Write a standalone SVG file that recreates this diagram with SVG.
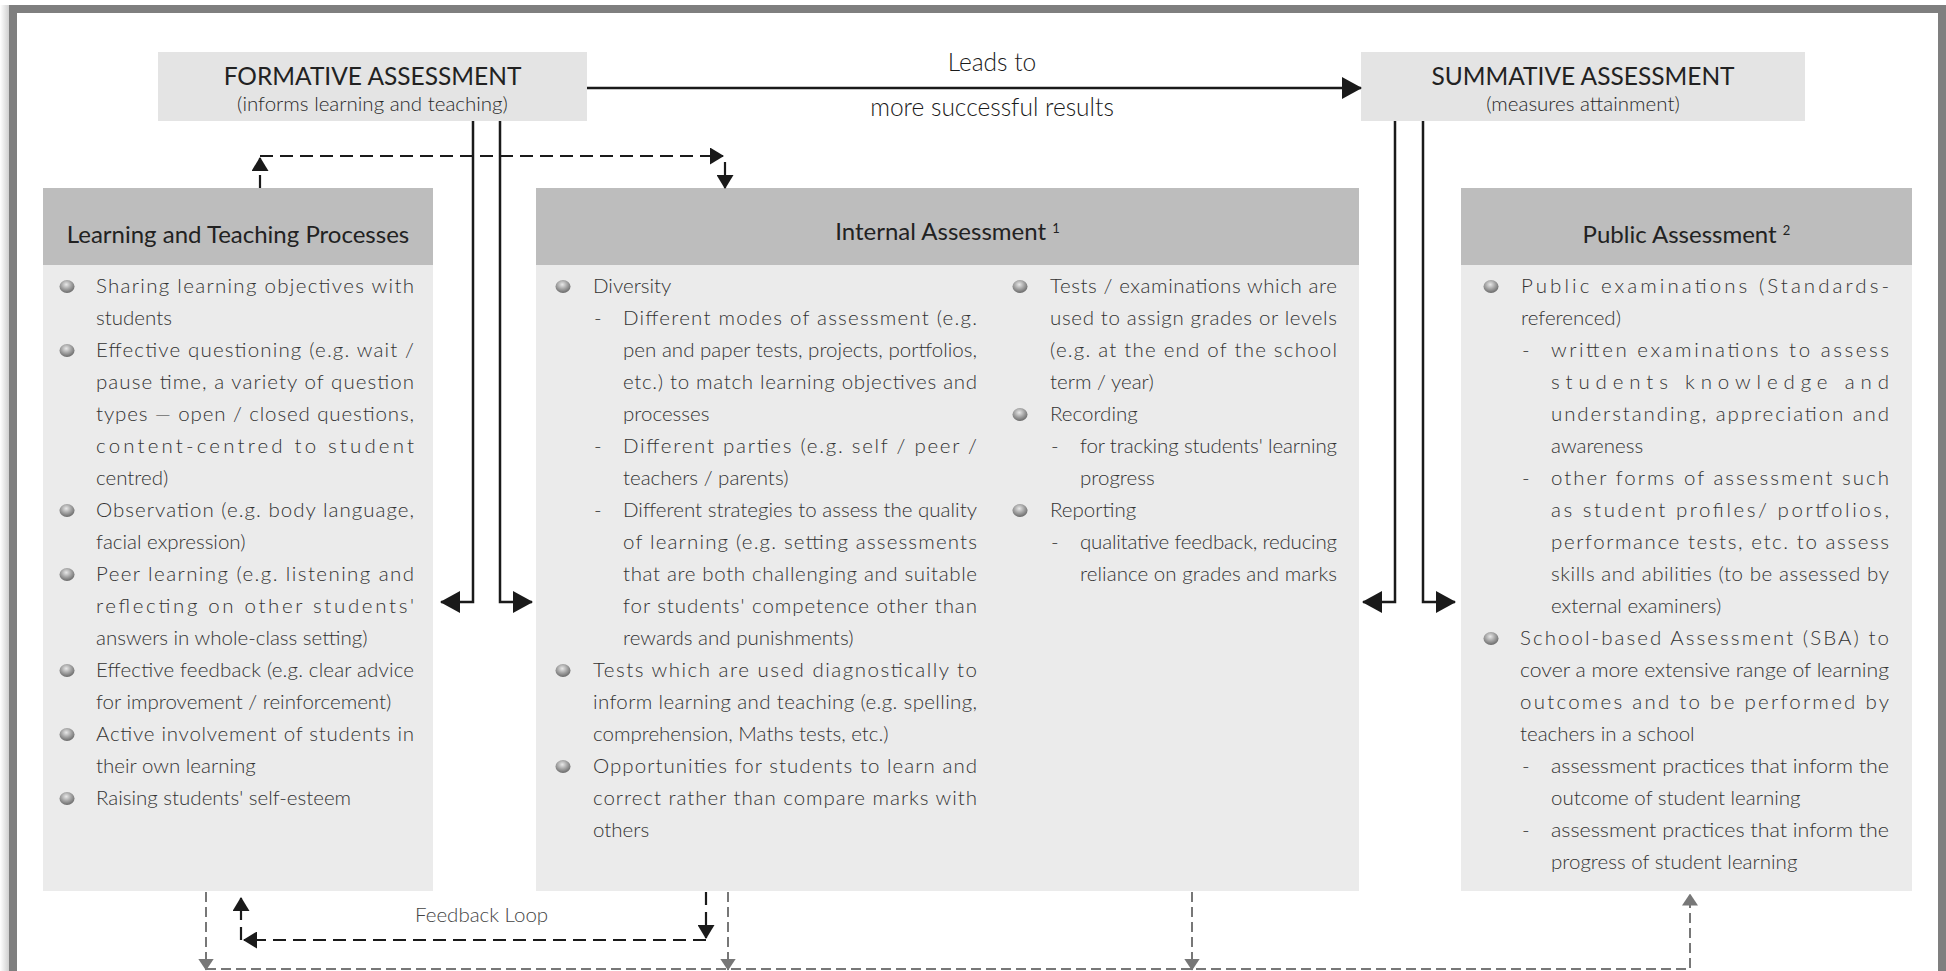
<svg xmlns="http://www.w3.org/2000/svg" width="1946" height="971" viewBox="0 0 1946 971">
<defs>
<style>
text{font-family:Lato,"Open Sans","Liberation Sans",sans-serif}
.title{font-size:24.5px;font-weight:400;fill:#222;text-anchor:middle}
.sub{font-size:20.5px;font-weight:300;fill:#2a2a2a;text-anchor:middle}
.head{font-size:24px;font-weight:400;fill:#222;text-anchor:middle}
.b{font-size:20.5px;font-weight:300;fill:#333}
.lbl{font-size:24.5px;font-weight:300;fill:#1a1a1a;text-anchor:middle}
.fb{font-size:20.5px;font-weight:300;fill:#444}
.topbox{fill:#e4e4e4}
.hdr{fill:#bdbdbd}
.body{fill:#ebebeb}
.bul{fill:url(#sphere)}
.sol{stroke:#1a1a1a;stroke-width:2.5;fill:none}
.dsh{stroke:#1a1a1a;stroke-width:2.2;stroke-dasharray:13 7;fill:none}
.gdsh{stroke:#777;stroke-width:2;stroke-dasharray:10 5;fill:none}
.frame{fill:#7f7f7f}
</style>
<radialGradient id="sphere" cx="45%" cy="35%" r="65%">
<stop offset="0" stop-color="#e8e8e8"/>
<stop offset="0.55" stop-color="#a0a0a0"/>
<stop offset="1" stop-color="#6a6a6a"/>
</radialGradient>
<linearGradient id="shadow" x1="0" y1="0" x2="1" y2="0">
<stop offset="0" stop-color="#ffffff"/>
<stop offset="1" stop-color="#cfcfcf"/>
</linearGradient>
<marker id="aBig" viewBox="0 0 20 22" markerWidth="20" markerHeight="22" refX="19" refY="11" orient="auto" markerUnits="userSpaceOnUse">
<path d="M0,0 L20,11 L0,22 Z" fill="#1a1a1a"/>
</marker>
<marker id="aSm" viewBox="0 0 14 17" markerWidth="14" markerHeight="17" refX="13" refY="8.5" orient="auto" markerUnits="userSpaceOnUse">
<path d="M0,0 L14,8.5 L0,17 Z" fill="#1a1a1a"/>
</marker>
<marker id="aGr" viewBox="0 0 12 16" markerWidth="12" markerHeight="16" refX="11.5" refY="8" orient="auto" markerUnits="userSpaceOnUse">
<path d="M0,0 L12,8 L0,16 Z" fill="#777"/>
</marker>
</defs>

<rect width="1946" height="971" fill="#ffffff"/>
<g id="frame">
<rect x="0" y="5" width="9" height="966" fill="url(#shadow)"/>
<rect class="frame" x="9" y="5" width="8" height="966"/>
<rect class="frame" x="9" y="5" width="1937" height="8"/>
<rect class="frame" x="1938" y="5" width="8" height="966"/>
</g>

<g id="formative">
<rect class="topbox" x="158" y="52" width="429" height="69"/>
<text class="title" x="372.5" y="85">FORMATIVE ASSESSMENT</text>
<text class="sub" x="372.5" y="111">(informs learning and teaching)</text>
</g>

<g id="summative">
<rect class="topbox" x="1361" y="52" width="444" height="69"/>
<text class="title" x="1583" y="85">SUMMATIVE ASSESSMENT</text>
<text class="sub" x="1583" y="111">(measures attainment)</text>
</g>

<g id="ltp">
<rect class="body" x="43" y="188" width="390" height="703"/>
<rect class="hdr" x="43" y="188" width="390" height="77"/>
<text class="head" x="238" y="243">Learning and Teaching Processes</text>
<g class="bul">
<ellipse cx="67" cy="286.5" rx="7.5" ry="6.5"/>
<ellipse cx="67" cy="350.5" rx="7.5" ry="6.5"/>
<ellipse cx="67" cy="510.5" rx="7.5" ry="6.5"/>
<ellipse cx="67" cy="574.5" rx="7.5" ry="6.5"/>
<ellipse cx="67" cy="670.5" rx="7.5" ry="6.5"/>
<ellipse cx="67" cy="734.5" rx="7.5" ry="6.5"/>
<ellipse cx="67" cy="798.5" rx="7.5" ry="6.5"/>
</g>
<g class="b">
<text x="96" y="293" textLength="318" lengthAdjust="spacing">Sharing learning objectives with</text>
<text x="96" y="325">students</text>
<text x="96" y="357" textLength="318" lengthAdjust="spacing">Effective questioning (e.g. wait /</text>
<text x="96" y="389" textLength="318" lengthAdjust="spacing">pause time, a variety of question</text>
<text x="96" y="421" textLength="318" lengthAdjust="spacing">types — open / closed questions,</text>
<text x="96" y="453" textLength="318" lengthAdjust="spacing">content-centred to student</text>
<text x="96" y="485">centred)</text>
<text x="96" y="517" textLength="318" lengthAdjust="spacing">Observation (e.g. body language,</text>
<text x="96" y="549">facial expression)</text>
<text x="96" y="581" textLength="318" lengthAdjust="spacing">Peer learning (e.g. listening and</text>
<text x="96" y="613" textLength="318" lengthAdjust="spacing">reflecting on other students'</text>
<text x="96" y="645">answers in whole-class setting)</text>
<text x="96" y="677" textLength="318" lengthAdjust="spacing">Effective feedback (e.g. clear advice</text>
<text x="96" y="709">for improvement / reinforcement)</text>
<text x="96" y="741" textLength="318" lengthAdjust="spacing">Active involvement of students in</text>
<text x="96" y="773">their own learning</text>
<text x="96" y="805">Raising students' self-esteem</text>
</g>
</g>

<g id="internal">
<rect class="body" x="536" y="188" width="823" height="703"/>
<rect class="hdr" x="536" y="188" width="823" height="77"/>
<text class="head" x="947.5" y="240">Internal Assessment <tspan font-size="13" dy="-7">1</tspan></text>
<g class="bul">
<ellipse cx="563" cy="286.5" rx="7.5" ry="6.5"/>
<ellipse cx="563" cy="670.5" rx="7.5" ry="6.5"/>
<ellipse cx="563" cy="766.5" rx="7.5" ry="6.5"/>
<ellipse cx="1020" cy="286.5" rx="7.5" ry="6.5"/>
<ellipse cx="1020" cy="414.5" rx="7.5" ry="6.5"/>
<ellipse cx="1020" cy="510.5" rx="7.5" ry="6.5"/>
</g>
<g class="b">
<text x="593" y="293">Diversity</text>
<text x="594" y="325">-</text>
<text x="623" y="325" textLength="354" lengthAdjust="spacing">Different modes of assessment (e.g.</text>
<text x="623" y="357" textLength="354" lengthAdjust="spacing">pen and paper tests, projects, portfolios,</text>
<text x="623" y="389" textLength="354" lengthAdjust="spacing">etc.) to match learning objectives and</text>
<text x="623" y="421">processes</text>
<text x="594" y="453">-</text>
<text x="623" y="453" textLength="354" lengthAdjust="spacing">Different parties (e.g. self / peer /</text>
<text x="623" y="485">teachers / parents)</text>
<text x="594" y="517">-</text>
<text x="623" y="517" textLength="354" lengthAdjust="spacing">Different strategies to assess the quality</text>
<text x="623" y="549" textLength="354" lengthAdjust="spacing">of learning (e.g. setting assessments</text>
<text x="623" y="581" textLength="354" lengthAdjust="spacing">that are both challenging and suitable</text>
<text x="623" y="613" textLength="354" lengthAdjust="spacing">for students' competence other than</text>
<text x="623" y="645">rewards and punishments)</text>
<text x="593" y="677" textLength="384" lengthAdjust="spacing">Tests which are used diagnostically to</text>
<text x="593" y="709" textLength="384" lengthAdjust="spacing">inform learning and teaching (e.g. spelling,</text>
<text x="593" y="741">comprehension, Maths tests, etc.)</text>
<text x="593" y="773" textLength="384" lengthAdjust="spacing">Opportunities for students to learn and</text>
<text x="593" y="805" textLength="384" lengthAdjust="spacing">correct rather than compare marks with</text>
<text x="593" y="837">others</text>
<text x="1050" y="293" textLength="287" lengthAdjust="spacing">Tests / examinations which are</text>
<text x="1050" y="325" textLength="287" lengthAdjust="spacing">used to assign grades or levels</text>
<text x="1050" y="357" textLength="287" lengthAdjust="spacing">(e.g. at the end of the school</text>
<text x="1050" y="389">term / year)</text>
<text x="1050" y="421">Recording</text>
<text x="1051" y="453">-</text>
<text x="1080" y="453" textLength="257" lengthAdjust="spacing">for tracking students' learning</text>
<text x="1080" y="485">progress</text>
<text x="1050" y="517">Reporting</text>
<text x="1051" y="549">-</text>
<text x="1080" y="549" textLength="257" lengthAdjust="spacing">qualitative feedback, reducing</text>
<text x="1080" y="581" textLength="257" lengthAdjust="spacing">reliance on grades and marks</text>
</g>
</g>

<g id="public">
<rect class="body" x="1461" y="188" width="451" height="703"/>
<rect class="hdr" x="1461" y="188" width="451" height="77"/>
<text class="head" x="1686.5" y="243">Public Assessment <tspan font-size="13" dy="-8">2</tspan></text>
<g class="bul">
<ellipse cx="1491" cy="286.5" rx="7.5" ry="6.5"/>
<ellipse cx="1491" cy="638.5" rx="7.5" ry="6.5"/>
</g>
<g class="b">
<text x="1521" y="293" textLength="368" lengthAdjust="spacing">Public examinations (Standards-</text>
<text x="1521" y="325">referenced)</text>
<text x="1522" y="357">-</text>
<text x="1551" y="357" textLength="338" lengthAdjust="spacing">written examinations to assess</text>
<text x="1551" y="389" textLength="338" lengthAdjust="spacing">students knowledge and</text>
<text x="1551" y="421" textLength="338" lengthAdjust="spacing">understanding, appreciation and</text>
<text x="1551" y="453">awareness</text>
<text x="1522" y="485">-</text>
<text x="1551" y="485" textLength="338" lengthAdjust="spacing">other forms of assessment such</text>
<text x="1551" y="517" textLength="338" lengthAdjust="spacing">as student profiles/ portfolios,</text>
<text x="1551" y="549" textLength="338" lengthAdjust="spacing">performance tests, etc. to assess</text>
<text x="1551" y="581" textLength="338" lengthAdjust="spacing">skills and abilities (to be assessed by</text>
<text x="1551" y="613">external examiners)</text>
<text x="1520" y="645" textLength="369" lengthAdjust="spacing">School-based Assessment (SBA) to</text>
<text x="1520" y="677" textLength="369" lengthAdjust="spacingAndGlyphs">cover a more extensive range of learning</text>
<text x="1520" y="709" textLength="369" lengthAdjust="spacing">outcomes and to be performed by</text>
<text x="1520" y="741">teachers in a school</text>
<text x="1522" y="773">-</text>
<text x="1551" y="773" textLength="338" lengthAdjust="spacingAndGlyphs">assessment practices that inform the</text>
<text x="1551" y="805">outcome of student learning</text>
<text x="1522" y="837">-</text>
<text x="1551" y="837" textLength="338" lengthAdjust="spacingAndGlyphs">assessment practices that inform the</text>
<text x="1551" y="869">progress of student learning</text>
</g>
</g>

<g id="connectors">
<path class="sol" d="M587,88 H1361" marker-end="url(#aBig)"/>
<text class="lbl" x="992" y="71">Leads to</text>
<text class="lbl" x="992" y="116">more successful results</text>
<path class="sol" d="M473,121 V602 H441" marker-end="url(#aBig)"/>
<path class="sol" d="M500,121 V602 H532" marker-end="url(#aBig)"/>
<path class="sol" d="M1395,121 V602 H1363" marker-end="url(#aBig)"/>
<path class="sol" d="M1423,121 V602 H1455" marker-end="url(#aBig)"/>
<path class="dsh" d="M260,188 V158" marker-end="url(#aSm)"/>
<path class="dsh" d="M260,156 H723" marker-end="url(#aSm)"/>
<path class="dsh" d="M725,162 V188" marker-end="url(#aSm)"/>
<path class="dsh" d="M706,892 V938" marker-end="url(#aSm)"/>
<path class="dsh" d="M706,940 H244" marker-end="url(#aSm)"/>
<path class="dsh" d="M241,940 V898" marker-end="url(#aSm)"/>
<text class="fb" x="415" y="922">Feedback Loop</text>
<path class="gdsh" d="M206,892 V970" marker-end="url(#aGr)"/>
<path class="gdsh" d="M728,892 V970" marker-end="url(#aGr)"/>
<path class="gdsh" d="M1192,892 V970" marker-end="url(#aGr)"/>
<path class="gdsh" d="M206,969 H1690 V894" marker-end="url(#aGr)"/>
</g>
</svg>
